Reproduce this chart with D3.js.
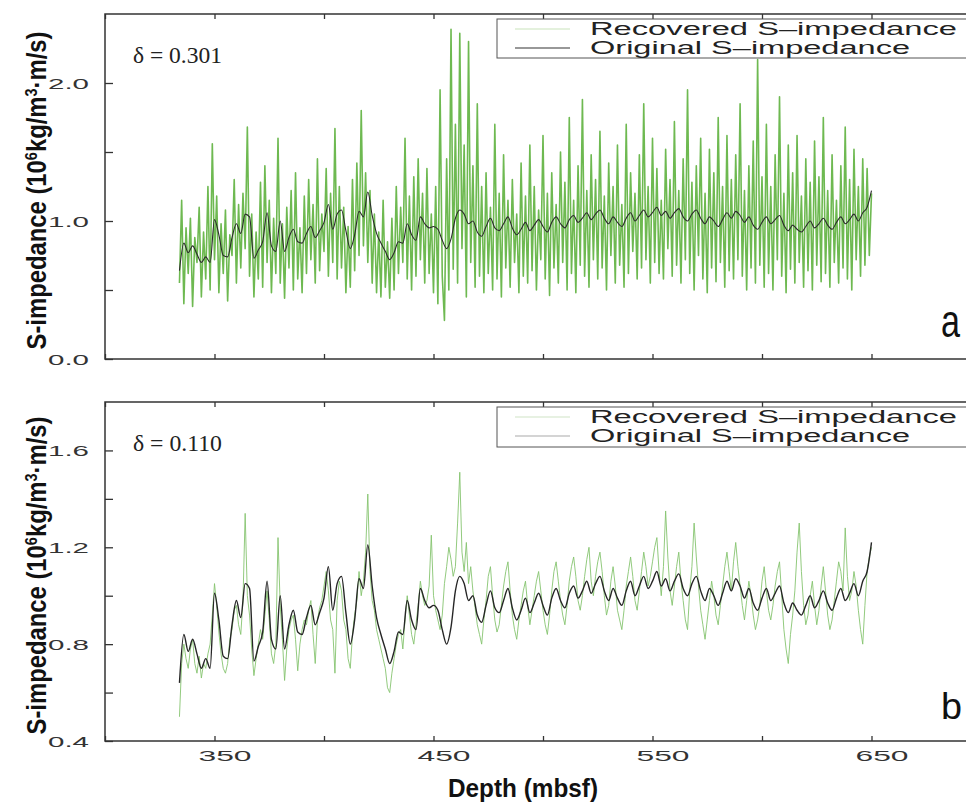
<!DOCTYPE html>
<html>
<head>
<meta charset="utf-8">
<script src="https://cdn.jsdelivr.net/npm/d3@7"></script>
<style>
  body { margin: 0; background: #fff; }
  svg { display: block; }
</style>
</head>
<body>
<div id="chart-area"></div>
<script>
// Depth sampling (mbsf)
var depthStart = 334;
var origStep = 2;
var recStep = 1;

// Original S-impedance, every 2 m from 334 to 650
var originalImp = [
  0.64, 0.84, 0.77, 0.82, 0.76, 0.70, 0.74, 0.70, 1.01, 0.90,
  0.75, 0.74, 0.88, 0.98, 0.91, 1.05, 1.03, 0.73, 0.79, 0.85,
  1.06, 0.82, 0.78, 1.00, 0.78, 0.88, 0.94, 0.85, 0.84, 0.91,
  0.96, 0.88, 0.93, 0.99, 1.12, 0.94, 1.05, 1.08, 0.93, 0.80,
  0.90, 1.07, 1.03, 1.21, 1.04, 0.91, 0.84, 0.78, 0.72, 0.77,
  0.85, 0.84, 0.98, 0.90, 0.86, 1.03, 0.98, 0.95, 0.96, 0.94,
  0.86, 0.80, 0.87, 1.02, 1.08, 1.05, 0.98, 1.00, 0.92, 0.89,
  0.96, 1.02, 0.95, 0.93, 0.98, 1.03, 0.95, 0.90, 0.94, 0.99,
  0.93, 0.97, 1.01, 0.96, 0.92, 0.99, 1.03, 0.98, 0.95, 1.01,
  1.04, 0.99, 1.02, 1.06, 1.01, 1.05, 1.08, 1.02, 0.98, 1.03,
  0.99, 0.96, 1.02, 1.06, 1.00, 1.04, 1.08, 1.03, 1.06, 1.10,
  1.04, 1.07, 1.02, 1.06, 1.09, 1.03, 1.00, 1.05, 1.08, 1.02,
  0.98, 1.03, 1.00, 0.96, 1.01, 1.06, 1.02, 1.07, 1.04, 0.99,
  1.03, 0.97, 0.94, 0.99, 1.03, 0.98, 1.01, 1.04, 0.97, 0.93,
  0.97, 0.94, 0.92, 0.96, 1.00, 0.95, 0.98, 1.02, 0.97, 0.94,
  0.99, 1.03, 0.98, 1.01, 1.05, 1.00, 1.06, 1.10, 1.22
];

// Recovered S-impedance, delta = 0.301 (every 1 m)
var recoveredA = [
  0.55, 1.15, 0.40, 0.95, 0.62, 1.02, 0.38, 0.88, 0.70, 1.10,
  0.45, 0.92, 0.58, 1.25, 0.50, 1.56, 0.72, 1.18, 0.48, 0.98,
  0.62, 1.08, 0.42, 0.90, 0.75, 1.30, 0.55, 1.12, 0.66, 1.20,
  0.80, 1.68, 0.60, 1.05, 0.45, 0.92, 0.58, 1.28, 0.52, 1.40,
  0.70, 1.15, 0.48, 1.02, 0.62, 1.60, 0.55, 0.98, 0.44, 1.10,
  0.66, 1.22, 0.50, 1.35, 0.58, 0.95, 0.48, 1.18, 0.62, 1.30,
  0.72, 1.12, 0.55, 1.45, 0.64, 1.05, 0.78, 1.38, 0.60, 1.20,
  0.70, 1.67, 0.58, 1.25, 0.66, 1.10, 0.48, 0.96, 0.52, 1.30,
  0.64, 1.42, 0.75, 1.80, 0.82, 1.35, 0.70, 1.22, 0.55, 1.05,
  0.48, 0.92, 0.45, 1.15, 0.52, 0.85, 0.44, 1.02, 0.50, 1.25,
  0.62, 1.10, 0.70, 1.60, 0.58, 1.18, 0.50, 1.32, 0.60, 1.45,
  0.72, 1.20, 0.55, 1.38, 0.62, 1.05, 0.48, 1.25, 0.40, 1.95,
  0.60, 0.28, 1.45, 0.50, 2.39, 0.65, 1.70, 0.55, 2.36, 0.80,
  1.55, 0.45, 2.30, 0.70, 1.40, 0.52, 1.85, 0.60, 1.25, 0.48,
  1.35, 0.62, 1.10, 0.50, 1.70, 0.58, 1.20, 0.45, 1.48, 0.66,
  1.15, 0.52, 1.30, 0.70, 1.05, 0.48, 1.42, 0.60, 1.18, 0.55,
  1.55, 0.64, 1.25, 0.50, 1.08, 0.72, 1.62, 0.58, 1.20, 0.46,
  1.35, 0.66, 1.12, 0.55, 1.50, 0.70, 1.28, 0.50, 1.75, 0.62,
  1.15, 0.48, 1.40, 0.68, 1.88, 0.60, 1.22, 0.52, 1.48, 0.72,
  1.30, 0.58, 1.65, 0.66, 1.18, 0.50, 1.42, 0.75, 1.25, 0.55,
  1.55, 0.68, 1.12, 0.52, 1.70, 0.62, 1.35, 0.78, 1.20, 0.58,
  1.48, 0.66, 1.85, 0.72, 1.25, 0.55, 1.60, 0.70, 1.38, 0.62,
  1.15, 0.58, 1.52, 0.80, 1.30, 0.60, 1.72, 0.68, 1.22, 0.55,
  1.45, 0.72, 1.95, 0.62, 1.28, 0.50, 1.40, 0.75, 1.60, 0.58,
  1.20, 0.48, 1.52, 0.66, 1.35, 0.56, 1.75, 0.70, 1.25, 0.52,
  1.62, 0.64, 1.30, 0.58, 1.48, 0.72, 1.85, 0.60, 1.22, 0.50,
  1.40, 0.66, 1.58, 0.55, 2.17, 0.68, 1.32, 0.52, 1.70, 0.62,
  1.25, 0.50, 1.48, 0.72, 1.90, 0.60, 1.20, 0.48, 1.55, 0.65,
  1.35, 0.55, 1.62, 0.70, 1.18, 0.52, 1.45, 0.64, 1.28, 0.50,
  1.58, 0.68, 1.32, 0.56, 1.75, 0.62, 1.22, 0.52, 1.48, 0.70,
  1.15, 0.55, 1.40, 0.66, 1.68, 0.58, 1.30, 0.50, 1.52, 0.72,
  1.25, 0.60, 1.45, 0.68, 1.38, 0.75, 1.20
];

// Recovered S-impedance, delta = 0.110 (every 1 m)
var recoveredB = [
  0.50, 0.72, 0.80, 0.74, 0.70, 0.78, 0.82, 0.72, 0.68, 0.75,
  0.66, 0.72, 0.70, 0.76, 0.80, 0.92, 1.05, 0.96, 0.85, 0.76,
  0.70, 0.68, 0.72, 0.82, 0.86, 0.94, 0.96, 0.88, 0.84, 0.98,
  1.34, 1.00, 0.92, 0.78, 0.67, 0.74, 0.80, 0.86, 0.82, 0.92,
  1.02, 0.90, 0.76, 0.72, 0.80, 1.24, 0.96, 0.82, 0.65, 0.78,
  0.86, 0.90, 0.92, 0.82, 0.69, 0.80, 0.86, 0.90, 0.88, 0.94,
  0.98, 0.84, 0.72, 0.90, 0.95, 0.98, 1.04, 1.10, 1.02, 0.90,
  0.86, 0.68, 0.98, 1.06, 1.02, 0.90, 0.86, 0.74, 0.70, 0.84,
  0.92, 0.98, 1.10, 1.00, 1.06, 1.18, 1.42, 1.10, 0.98, 0.94,
  0.86, 0.82, 0.78, 0.74, 0.70, 0.62, 0.60, 0.68, 0.74, 0.80,
  0.84, 0.86, 0.78, 0.90, 1.00, 0.92, 0.84, 0.80, 0.88, 0.96,
  1.06, 1.00, 0.96, 0.98, 1.04, 1.25, 1.00, 0.94, 0.90, 0.86,
  0.92, 1.05, 1.12, 1.20, 1.15, 1.08, 1.12, 1.30, 1.51, 1.18,
  1.10, 1.22, 1.05, 1.12, 1.02, 0.95, 0.88, 0.84, 0.80, 0.90,
  0.98, 1.08, 1.12, 1.00, 0.90, 0.85, 0.88, 0.96, 1.04, 1.10,
  1.14, 1.02, 0.92, 0.86, 0.82, 0.90, 0.96, 1.02, 1.06, 0.96,
  0.88, 0.94, 1.00, 1.06, 1.10, 1.02, 0.94, 0.88, 0.84, 0.92,
  1.02, 1.10, 1.14, 1.06, 0.98, 0.92, 0.88, 0.96, 1.06, 1.12,
  1.16, 1.08, 0.98, 0.94, 1.00, 1.08, 1.15, 1.20, 1.06, 1.00,
  1.08, 1.14, 1.18, 1.10, 1.00, 0.92, 0.96, 1.06, 1.12, 1.04,
  0.94, 0.90, 0.86, 0.94, 1.04, 1.10, 1.16, 1.08, 0.98, 0.94,
  1.02, 1.10, 1.18, 1.12, 1.04, 1.08, 1.14, 1.20, 1.24, 1.10,
  1.00, 1.12, 1.35, 1.16, 1.02, 0.96, 1.04, 1.12, 1.18, 1.06,
  0.98, 0.90, 0.86, 1.02, 1.12, 1.30, 1.16, 1.04, 0.94, 0.88,
  0.82, 0.90, 0.98, 1.06, 1.00, 0.92, 0.88, 0.96, 1.04, 1.12,
  1.18, 1.10, 1.02, 1.14, 1.22, 1.12, 1.04, 0.96, 0.90, 0.98,
  1.06, 1.00, 0.92, 0.86, 0.90, 0.96, 1.06, 1.12, 1.02, 0.94,
  0.90, 0.96, 1.04, 1.10, 1.14, 1.00, 0.86, 0.78, 0.72, 0.84,
  0.92, 1.02, 1.18, 1.30, 1.10, 0.96, 0.88, 0.92, 1.00, 1.06,
  0.96, 0.88, 0.94, 1.04, 1.12, 1.02, 0.92, 0.86, 0.90, 0.98,
  1.06, 1.14, 1.10, 1.02, 1.28, 1.08, 0.98, 1.02, 1.10, 1.04,
  0.94, 0.86, 0.80, 0.96, 1.10, 1.16, 1.20
];

// Axis ticks and labels
var depthTicks = [300, 350, 400, 450, 500, 550, 600, 650, 700];
var depthLabels = [350, 450, 550, 650];
var yTicksA = [0, 0.5, 1.0, 1.5, 2.0];
var yLabelsA = [0, 1.0, 2.0];
var yTicksB = [0.4, 0.6, 0.8, 1.0, 1.2, 1.4, 1.6];
var yLabelsB = [0.4, 0.8, 1.2, 1.6];
var legendNames = ["Recovered S\u2013impedance", "Original S\u2013impedance"];

var W = 966, H = 806;

var svg = d3.select("#chart-area")
    .append("svg")
        .attr("width", W)
        .attr("height", H);

// shared depth scale, plot frame runs past the right edge of the picture
var x = d3.scaleLinear()
    .domain([300, 700])
    .range([105, 981]);

var line = function(y) {
    return d3.line()
        .x(function(d) { return x(d.depth); })
        .y(function(d) { return y(d.value); });
};

function toPoints(values, step) {
    return values.map(function(v, i) { return { depth: depthStart + i * step, value: v }; });
}

var panels = [
    { top: 14, bottom: 359, domain: [0, 2.5], ticks: yTicksA, labels: yLabelsA,
      rec: recoveredA, delta: "\u03b4 = 0.301", letter: "a", letterSize: 46, letterW: 19,
      recColor: "#55ad33", recWidth: 1.6, recOpacity: 0.85,
      origColor: "#2b2b2b", origWidth: 1.1,
      legColors: ["#c9e3bb", "#333"], xLabels: false },
    { top: 402, bottom: 741, domain: [0.4, 1.8], ticks: yTicksB, labels: yLabelsB,
      rec: recoveredB, delta: "\u03b4 = 0.110", letter: "b", letterSize: 37, letterW: 21,
      recColor: "#86c46f", recWidth: 0.9, recOpacity: 1,
      origColor: "#262626", origWidth: 1.4,
      legColors: ["#cfe3c6", "#aaa"], xLabels: true }
];

panels.forEach(function(p, k) {
    var y = d3.scaleLinear().domain(p.domain).range([p.bottom, p.top]);
    var g = svg.append("g");

    g.append("clipPath").attr("id", "clip" + k)
      .append("rect")
        .attr("x", x(300)).attr("y", p.top)
        .attr("width", x(700) - x(300)).attr("height", p.bottom - p.top);

    // Recovered
    g.append("path")
        .datum(toPoints(p.rec, recStep))
        .attr("clip-path", "url(#clip" + k + ")")
        .attr("fill", "none")
        .attr("stroke", p.recColor)
        .attr("stroke-opacity", p.recOpacity)
        .attr("stroke-width", p.recWidth)
        .attr("stroke-linejoin", "round")
        .attr("d", line(y));

    // Original
    g.append("path")
        .datum(toPoints(originalImp, origStep))
        .attr("clip-path", "url(#clip" + k + ")")
        .attr("fill", "none")
        .attr("stroke", p.origColor)
        .attr("stroke-width", p.origWidth)
        .attr("stroke-linejoin", "round")
        .attr("d", line(y).curve(d3.curveMonotoneX));

    // Left axis, ticks pointing in
    var yAxis = g.append("g")
        .attr("transform", "translate(" + x(300) + ",0)")
        .call(d3.axisLeft(y)
            .tickValues(p.ticks)
            .tickSizeInner(-8)
            .tickSizeOuter(0)
            .tickPadding(16)
            .tickFormat(function(d) {
                return p.labels.some(function(l) { return Math.abs(l - d) < 1e-6; }) ? d3.format(".1f")(d) : "";
            }));
    yAxis.select(".domain").remove();
    yAxis.selectAll("line").attr("stroke", "#333").attr("stroke-width", 1.3);
    yAxis.selectAll("text")
        .attr("font-family", "'Liberation Sans', Arial, sans-serif")
        .attr("font-size", 14.5)
        .attr("fill", "#333")
        .attr("dy", "0.36em")
        .attr("textLength", function() { return this.textContent ? 41 : 0; })
        .attr("lengthAdjust", "spacingAndGlyphs");

    // Bottom axis (ticks up)
    var xAxis = g.append("g")
        .attr("transform", "translate(0," + p.bottom + ")")
        .call(d3.axisBottom(x)
            .tickValues(depthTicks)
            .tickSizeInner(-5)
            .tickSizeOuter(0)
            .tickPadding(9)
            .tickFormat(function(d) {
                return (p.xLabels && depthLabels.indexOf(d) >= 0) ? d : "";
            }));
    xAxis.select(".domain").remove();
    xAxis.selectAll("line").attr("stroke", "#333").attr("stroke-width", 1.3);
    xAxis.selectAll("text")
        .attr("font-family", "'Liberation Sans', Arial, sans-serif")
        .attr("font-size", 15)
        .attr("fill", "#333")
        .attr("dx", 10)
        .attr("textLength", function() { return this.textContent ? 53 : 0; })
        .attr("lengthAdjust", "spacingAndGlyphs");

    // Top axis (ticks down)
    var tAxis = g.append("g")
        .attr("transform", "translate(0," + p.top + ")")
        .call(d3.axisTop(x)
            .tickValues(depthTicks)
            .tickSizeInner(-5)
            .tickSizeOuter(0)
            .tickFormat(""));
    tAxis.select(".domain").remove();
    tAxis.selectAll("line").attr("stroke", "#333").attr("stroke-width", 1.3);

    // Frame
    g.append("rect")
        .attr("x", x(300)).attr("y", p.top)
        .attr("width", x(700) - x(300)).attr("height", p.bottom - p.top)
        .attr("fill", "none")
        .attr("stroke", "#333")
        .attr("stroke-width", 1.5);

    // Legend
    var leg = g.append("g").attr("transform", "translate(497," + (p.top + 5) + ")");
    leg.append("rect")
        .attr("x", 0).attr("y", 0)
        .attr("width", 490).attr("height", k === 0 ? 39 : 40)
        .attr("fill", "#fff")
        .attr("stroke", "#555")
        .attr("stroke-width", 1);
    legendNames.forEach(function(name, i) {
        var ly = 10 + i * 19;
        leg.append("line")
            .attr("x1", 18).attr("x2", 73)
            .attr("y1", ly).attr("y2", ly)
            .attr("stroke", p.legColors[i])
            .attr("stroke-width", 1.2);
        leg.append("text")
            .attr("x", 93).attr("y", ly + 6)
            .attr("font-family", "'Liberation Sans', Arial, sans-serif")
            .attr("font-size", 17.5)
            .attr("fill", "#222")
            .attr("textLength", i === 0 ? 367 : 320)
            .attr("lengthAdjust", "spacingAndGlyphs")
            .text(name);
    });

    // delta annotation
    g.append("text")
        .attr("x", 133).attr("y", p.top + 49)
        .attr("font-family", "'Liberation Serif', 'Times New Roman', serif")
        .attr("font-size", 23)
        .attr("fill", "#222")
        .attr("textLength", 89)
        .attr("lengthAdjust", "spacingAndGlyphs")
        .text(p.delta);

    // panel letter
    g.append("text")
        .attr("x", 941).attr("y", p.bottom - 22)
        .attr("font-family", "'Liberation Sans', Arial, sans-serif")
        .attr("font-size", p.letterSize)
        .attr("fill", "#111")
        .attr("textLength", p.letterW)
        .attr("lengthAdjust", "spacingAndGlyphs")
        .text(p.letter);

    // Y label
    var yl = g.append("text")
        .attr("transform", "translate(46," + ((p.top + p.bottom) / 2 + 4) + ") rotate(-90)")
        .attr("text-anchor", "middle")
        .attr("font-family", "'Liberation Sans', Arial, sans-serif")
        .attr("font-weight", "bold")
        .attr("font-size", 28)
        .attr("fill", "#111")
        .attr("textLength", 318)
        .attr("lengthAdjust", "spacingAndGlyphs");
    yl.append("tspan").text("S-impedance (10");
    yl.append("tspan").attr("baseline-shift", "super").attr("font-size", 17).text("6");
    yl.append("tspan").text("kg/m");
    yl.append("tspan").attr("baseline-shift", "super").attr("font-size", 17).text("3");
    yl.append("tspan").text("\u00b7m/s)");
});

// X Label
svg.append("text")
    .attr("x", 523)
    .attr("y", 797)
    .attr("text-anchor", "middle")
    .attr("font-family", "'Liberation Sans', Arial, sans-serif")
    .attr("font-weight", "bold")
    .attr("font-size", 26)
    .attr("fill", "#111")
    .attr("textLength", 150)
    .attr("lengthAdjust", "spacingAndGlyphs")
    .text("Depth (mbsf)");
</script>
</body>
</html>
